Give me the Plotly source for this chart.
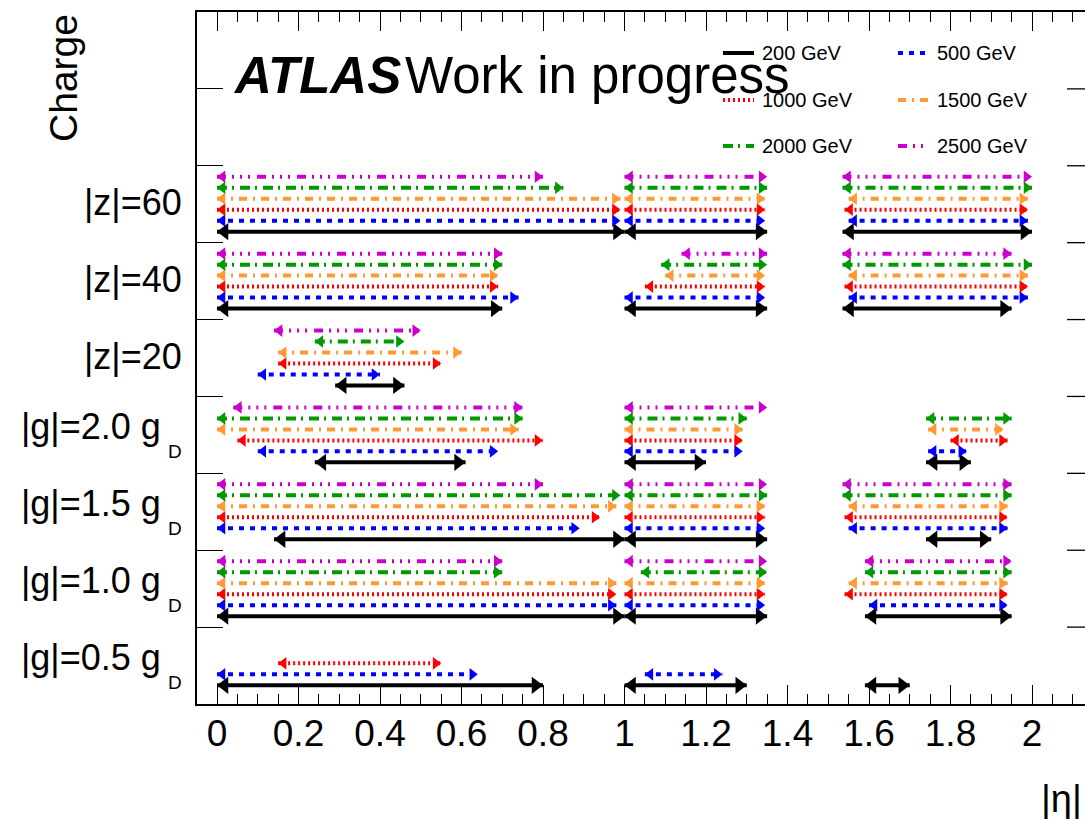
import plotly.graph_objects as go

# Charge hypotheses, bottom to top
charge_labels = ["|g|=0.5 g", "|g|=1.0 g", "|g|=1.5 g", "|g|=2.0 g", "|z|=20", "|z|=40", "|z|=60"]
charge_subscripts = ["D", "D", "D", "D", "", "", ""]

# Mass points
mass_labels = ["200 GeV", "500 GeV", "1000 GeV", "1500 GeV", "2000 GeV", "2500 GeV"]

# |eta| ranges per charge (same order as charge_labels) for each mass point
eta_200 = [
    [(0.0, 0.80), (1.0, 1.30), (1.59, 1.70)],
    [(0.0, 1.0), (1.0, 1.35), (1.59, 1.95)],
    [(0.14, 1.0), (1.0, 1.35), (1.74, 1.90)],
    [(0.24, 0.61), (1.0, 1.20), (1.74, 1.85)],
    [(0.29, 0.46)],
    [(0.0, 0.70), (1.0, 1.35), (1.535, 1.95)],
    [(0.0, 1.0), (1.0, 1.35), (1.535, 2.0)],
]
eta_500 = [
    [(0.0, 0.64), (1.05, 1.24)],
    [(0.0, 0.98), (1.0, 1.345), (1.60, 1.94)],
    [(0.0, 0.89), (1.0, 1.345), (1.55, 1.94)],
    [(0.10, 0.69), (1.0, 1.29), (1.745, 1.84)],
    [(0.10, 0.40)],
    [(0.0, 0.74), (1.0, 1.345), (1.55, 1.99)],
    [(0.0, 0.99), (1.0, 1.345), (1.55, 1.99)],
]
eta_1000 = [
    [(0.15, 0.55)],
    [(0.0, 0.98), (1.0, 1.345), (1.54, 1.94)],
    [(0.0, 0.94), (1.0, 1.345), (1.54, 1.94)],
    [(0.05, 0.80), (1.0, 1.29), (1.80, 1.94)],
    [(0.15, 0.55)],
    [(0.0, 0.69), (1.05, 1.345), (1.54, 1.99)],
    [(0.0, 0.99), (1.0, 1.345), (1.54, 1.99)],
]
eta_1500 = [
    [],
    [(0.0, 0.98), (1.0, 1.345), (1.55, 1.94)],
    [(0.0, 0.98), (1.0, 1.345), (1.55, 1.94)],
    [(0.0, 0.74), (1.0, 1.29), (1.745, 1.93)],
    [(0.15, 0.60)],
    [(0.0, 0.69), (1.10, 1.345), (1.55, 1.99)],
    [(0.0, 0.99), (1.0, 1.345), (1.55, 1.99)],
]
eta_2000 = [
    [],
    [(0.0, 0.70), (1.04, 1.35), (1.59, 1.95)],
    [(0.0, 0.99), (1.0, 1.35), (1.535, 1.95)],
    [(0.0, 0.75), (1.0, 1.30), (1.74, 1.95)],
    [(0.24, 0.46)],
    [(0.0, 0.70), (1.09, 1.35), (1.535, 2.0)],
    [(0.0, 0.85), (1.0, 1.35), (1.535, 2.0)],
]
eta_2500 = [
    [],
    [(0.0, 0.70), (1.0, 1.35), (1.59, 1.95)],
    [(0.0, 0.80), (1.0, 1.35), (1.535, 1.95)],
    [(0.04, 0.75), (1.0, 1.35)],
    [(0.14, 0.50)],
    [(0.0, 0.70), (1.14, 1.35), (1.535, 1.95)],
    [(0.0, 0.80), (1.0, 1.35), (1.535, 2.0)],
]

x_tickvals = [0, 0.2, 0.4, 0.6, 0.8, 1.0, 1.2, 1.4, 1.6, 1.8, 2.0]

# ---- styling ----
FONT = "Liberation Sans, Arial, Helvetica, sans-serif"
colors = ["#000000", "#0000ff", "#ff0000", "#ff9933", "#009900", "#cc00cc"]
dashes = ["solid", "5px,6px", "2px,3px", "8px,6px,2px,6px",
          "10px,5px,2px,6px", "9px,6px,2px,6px,2px,6px,2px,7px"]
head_sizes = [15, 11, 11, 11, 11, 11]

W, H = 1085, 819
L, T, B = 197, 12, 115          # plot-area margins in px
PX_PER_UNIT = 407.5             # horizontal scale of |eta|
X0_PX = 217                     # pixel of |eta| = 0
x_min = (L - X0_PX) / PX_PER_UNIT
x_max = (W - X0_PX) / PX_PER_UNIT
plot_w = W - L
plot_h = H - T - B


def px_to_paper_x(px):
    return (px - L) / plot_w


def px_to_paper_y(py):
    return (H - B - py) / plot_h


fig = go.Figure()

all_ranges = [eta_200, eta_500, eta_1000, eta_1500, eta_2000, eta_2500]
for m, (name, by_charge) in enumerate(zip(mass_labels, all_ranges)):
    xs, ys, angles = [], [], []
    for c, segs in enumerate(by_charge):
        row_y = c + (m + 1) / 7 + (0.1 if c == 0 else 0.0)
        for lo, hi in segs:
            xs += [lo, hi, None]
            ys += [row_y, row_y, None]
            angles += [-90, 90, 0]
    s = head_sizes[m]
    fig.add_trace(go.Scatter(
        x=xs, y=ys, mode="lines+markers", name=name,
        line=dict(color=colors[m], width=4, dash=dashes[m]),
        marker=dict(symbol="triangle-up", size=s, angle=angles,
                    standoff=s / 2, color=colors[m]),
        connectgaps=False, showlegend=False, hoverinfo="skip",
    ))

shapes = []
annotations = []

# right-hand y ticks (frame edge lies just outside the canvas)
for k in range(1, 9):
    shapes.append(dict(type="line", xref="paper", yref="y",
                       x0=px_to_paper_x(1067), x1=1.0, y0=k, y1=k,
                       line=dict(color="black", width=1.3)))

# legend, two columns x three rows
leg_cols = [(723, 754, 760), (898, 928, 935)]
leg_rows = [53, 100, 146]
for m, name in enumerate(mass_labels):
    row, col = divmod(m, 2)
    lx0, lx1, tx = leg_cols[col]
    py = leg_rows[row]
    shapes.append(dict(type="line", xref="paper", yref="paper",
                       x0=px_to_paper_x(lx0), x1=px_to_paper_x(lx1),
                       y0=px_to_paper_y(py), y1=px_to_paper_y(py),
                       line=dict(color=colors[m], width=4, dash=dashes[m])))
    annotations.append(dict(text=name, xref="paper", yref="paper",
                            x=px_to_paper_x(tx), y=px_to_paper_y(py),
                            xanchor="left", yanchor="middle", showarrow=False,
                            font=dict(family=FONT, size=20, color="black")))

# charge labels on the left
for c, (lab, sub) in enumerate(zip(charge_labels, charge_subscripts)):
    yc = c + 0.5
    if sub:
        annotations.append(dict(text=lab, xref="paper", yref="y",
                                x=px_to_paper_x(163), y=yc, yshift=8,
                                xanchor="right", yanchor="middle", showarrow=False,
                                font=dict(family=FONT, size=36, color="black")))
        annotations.append(dict(text=sub, xref="paper", yref="y",
                                x=px_to_paper_x(166), y=yc, yshift=-17,
                                xanchor="left", yanchor="middle", showarrow=False,
                                font=dict(family=FONT, size=19, color="black")))
    else:
        annotations.append(dict(text=lab, xref="paper", yref="y",
                                x=px_to_paper_x(184), y=yc, yshift=2,
                                xanchor="right", yanchor="middle", showarrow=False,
                                font=dict(family=FONT, size=36, color="black")))

# experiment label
annotations.append(dict(text="<b><i>ATLAS</i></b>", xref="paper", yref="paper",
                        x=px_to_paper_x(231), y=px_to_paper_y(76),
                        xanchor="left", yanchor="middle", showarrow=False,
                        font=dict(family=FONT, size=51, color="black")))
annotations.append(dict(text="Work in progress", xref="paper", yref="paper",
                        x=px_to_paper_x(403), y=px_to_paper_y(76),
                        xanchor="left", yanchor="middle", showarrow=False,
                        font=dict(family=FONT, size=51, color="black")))

# axis titles
annotations.append(dict(text="Charge", xref="paper", yref="paper",
                        x=px_to_paper_x(64), y=px_to_paper_y(78), textangle=-90,
                        xanchor="center", yanchor="middle", showarrow=False,
                        font=dict(family=FONT, size=39, color="black")))
annotations.append(dict(text="|η|", xref="paper", yref="paper",
                        x=px_to_paper_x(1084), y=px_to_paper_y(799),
                        xanchor="right", yanchor="middle", showarrow=False,
                        font=dict(family=FONT, size=38, color="black")))

fig.update_layout(
    width=W, height=H,
    margin=dict(l=L, r=0, t=T, b=B, pad=0),
    paper_bgcolor="white", plot_bgcolor="white",
    shapes=shapes, annotations=annotations,
    font=dict(family=FONT, color="black"),
    xaxis=dict(
        range=[x_min, x_max], showgrid=False, zeroline=False,
        showline=True, linecolor="black", linewidth=2, mirror="allticks",
        ticks="inside", ticklen=19, tickwidth=1.3, tickcolor="black",
        tickvals=x_tickvals, ticktext=[f"{v:g}" for v in x_tickvals],
        tickfont=dict(family=FONT, size=37, color="black"),
        ticklabelstandoff=-4,
        minor=dict(ticks="inside", ticklen=10, tickwidth=1.3, tickcolor="black",
                   dtick=0.05, tick0=0, showgrid=False),
    ),
    yaxis=dict(
        range=[0, 9], showgrid=False, zeroline=False,
        showline=True, linecolor="black", linewidth=2, mirror=False,
        ticks="inside", ticklen=26, tickwidth=1.3, tickcolor="black",
        tick0=0, dtick=1, showticklabels=False,
    ),
)

fig.write_html("out.html")
